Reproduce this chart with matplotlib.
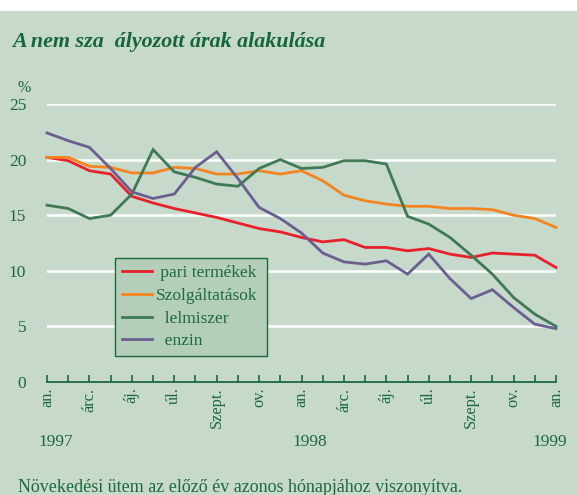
import matplotlib
matplotlib.use("Agg")
import matplotlib.pyplot as plt
from matplotlib.patches import Rectangle

months = list(range(25))
tick_labels = ["an.", "árc.", "áj.", "úl.", "Szept.", "ov.",
               "an.", "árc.", "áj.", "úl.", "Szept.", "ov.", "an."]
years = ["1997", "1998", "1999"]

ipari = [20.2, 19.9, 19.0, 18.7, 16.7, 16.1, 15.6, 15.2, 14.8, 14.3, 13.8, 13.5,
         13.0, 12.6, 12.8, 12.1, 12.1, 11.8, 12.0, 11.5, 11.2, 11.6, 11.5, 11.4, 10.3]
szolg = [20.2, 20.2, 19.4, 19.3, 18.8, 18.8, 19.3, 19.2, 18.7, 18.7, 19.0, 18.7,
         19.0, 18.1, 16.8, 16.3, 16.0, 15.8, 15.8, 15.6, 15.6, 15.5, 15.0, 14.7, 13.9]
elelm = [15.9, 15.6, 14.7, 15.0, 16.9, 20.9, 18.9, 18.4, 17.8, 17.6, 19.2, 20.0,
         19.2, 19.3, 19.9, 19.9, 19.6, 14.9, 14.2, 13.0, 11.4, 9.7, 7.6, 6.1, 5.0]
benzin = [22.4, 21.7, 21.1, 19.2, 17.1, 16.5, 16.9, 19.3, 20.7, 18.3, 15.7, 14.7,
          13.4, 11.6, 10.8, 10.6, 10.9, 9.7, 11.5, 9.3, 7.5, 8.3, 6.7, 5.2, 4.8]

series = [
    (" pari termékek", ipari, "#e8202a"),
    ("Szolgáltatások", szolg, "#f5841f"),
    ("  lelmiszer", elelm, "#3f7a55"),
    ("  enzin", benzin, "#6a5f8f"),
]

BG = "#c6d9cb"
TXT = "#1c6a3c"
plt.rcParams["font.family"] = ["Liberation Serif", "DejaVu Serif"]

fig = plt.figure(figsize=(5.77, 4.95), dpi=100)
fig.patch.set_facecolor("white")
fig.add_artist(Rectangle((0, 0), 1, 1 - 11 / 495, transform=fig.transFigure,
                         facecolor=BG, edgecolor="none", zorder=-10))

ax = fig.add_axes([47 / 577, 1 - 382 / 495, 509 / 577, 278 / 495])
ax.set_facecolor("none")
ax.set_xlim(0, 24)
ax.set_ylim(0, 25)

for y in [5, 10, 15, 20, 25]:
    ax.axhline(y, color="white", lw=1.8, zorder=1)

for label, vals, col in series:
    ax.plot(months, vals, color=col, lw=2.0, label=label, zorder=3,
            clip_on=False, solid_joinstyle="miter")

for s in ["top", "right", "left"]:
    ax.spines[s].set_visible(False)
ax.spines["bottom"].set_color(TXT)
ax.spines["bottom"].set_linewidth(1.3)

ax.set_yticks([0, 5, 10, 15, 20, 25])
ax.tick_params(axis="y", length=0, labelsize=12.5, labelcolor=TXT, pad=15)
ax.set_xticks(months, minor=True)
ax.set_xticks(months[::2])
ax.set_xticklabels(tick_labels, rotation=90, va="top")
ax.tick_params(axis="x", which="both", direction="in", length=5, width=1.2,
               color=TXT, labelsize=11.8, labelcolor=TXT, pad=4)

ax.text(-0.045, 1.058, "%", transform=ax.transAxes, fontsize=11.5, color=TXT,
        ha="center", va="center")

for xpos, yr in zip([0.42, 12.4, 23.7], years):
    ax.text(xpos, -5.4, yr, fontsize=12.5, color=TXT, ha="center", va="center")

leg = ax.legend(loc="upper left", bbox_to_anchor=(0.134, 0.09, 0.298, 0.356),
                mode="expand", fontsize=12.5, frameon=True, fancybox=False,
                handlelength=1.7, handletextpad=0.25, labelspacing=0.38,
                borderpad=0.4, borderaxespad=0)
leg.get_frame().set_facecolor("#b5ceba")
leg.get_frame().set_edgecolor(TXT)
leg.get_frame().set_linewidth(1.0)
leg.get_frame().set_alpha(1)
for t in leg.get_texts():
    t.set_color(TXT)

fig.text(12 / 577, 1 - 42 / 495, "A nem sza  ályozott árak alakulása",
         fontsize=15.8, fontweight="bold", fontstyle="italic", color="#16663a",
         ha="left", va="center")
fig.text(18 / 577, 1 - 487 / 495,
         "Növekedési ütem az előző év azonos hónapjához viszonyítva.",
         fontsize=13, color=TXT, ha="left", va="center")

fig.savefig("out.png", dpi=100, facecolor=fig.get_facecolor())
